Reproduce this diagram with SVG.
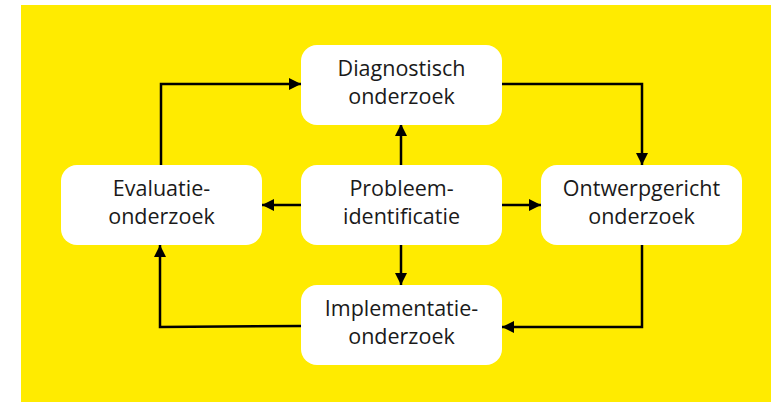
<svg xmlns="http://www.w3.org/2000/svg" width="771" height="402" viewBox="0 0 771 402">
<style>
.box{fill:#ffffff}
.lbl{font-family:"Open Sans","Liberation Sans",sans-serif;font-size:21.5px;fill:#1a1a1a;text-anchor:middle}
.con{fill:none;stroke:#000;stroke-width:2.5;marker-end:url(#ah)}
</style>
<defs>
<marker id="ah" viewBox="0 0 10 10" refX="10" refY="5" markerWidth="12" markerHeight="12" markerUnits="userSpaceOnUse" orient="auto">
<path d="M0,0 L10,5 L0,10 Z" fill="#000"/>
</marker>
</defs>
<rect x="21" y="5" width="750" height="397" fill="#FFEB00"/>
<g id="connectors">
<path class="con" d="M502,84 H642 V165"/>
<path class="con" d="M161,165 V84 H301"/>
<path class="con" d="M642,245 V327 H502"/>
<path class="con" d="M301,326 L160,327 V245"/>
<path class="con" d="M401,165 L401,124"/>
<path class="con" d="M301,205 H262"/>
<path class="con" d="M502,205 H541"/>
<path class="con" d="M401,245 V285"/>
</g>
<g id="diagnostisch">
<rect class="box" x="301" y="45" width="201" height="80" rx="16"/>
<text class="lbl" x="401.5" y="76">Diagnostisch</text>
<text class="lbl" x="401.5" y="104">onderzoek</text>
</g>
<g id="probleem">
<rect class="box" x="301" y="165" width="201" height="80" rx="16"/>
<text class="lbl" x="401.5" y="196">Probleem-</text>
<text class="lbl" x="401.5" y="224">identificatie</text>
</g>
<g id="evaluatie">
<rect class="box" x="61" y="165" width="201" height="80" rx="16"/>
<text class="lbl" x="161.5" y="196">Evaluatie-</text>
<text class="lbl" x="161.5" y="224">onderzoek</text>
</g>
<g id="ontwerpgericht">
<rect class="box" x="541" y="165" width="201" height="80" rx="16"/>
<text class="lbl" x="641.5" y="196">Ontwerpgericht</text>
<text class="lbl" x="641.5" y="224">onderzoek</text>
</g>
<g id="implementatie">
<rect class="box" x="301" y="285" width="201" height="80" rx="16"/>
<text class="lbl" x="401.5" y="316">Implementatie-</text>
<text class="lbl" x="401.5" y="344">onderzoek</text>
</g>
</svg>
